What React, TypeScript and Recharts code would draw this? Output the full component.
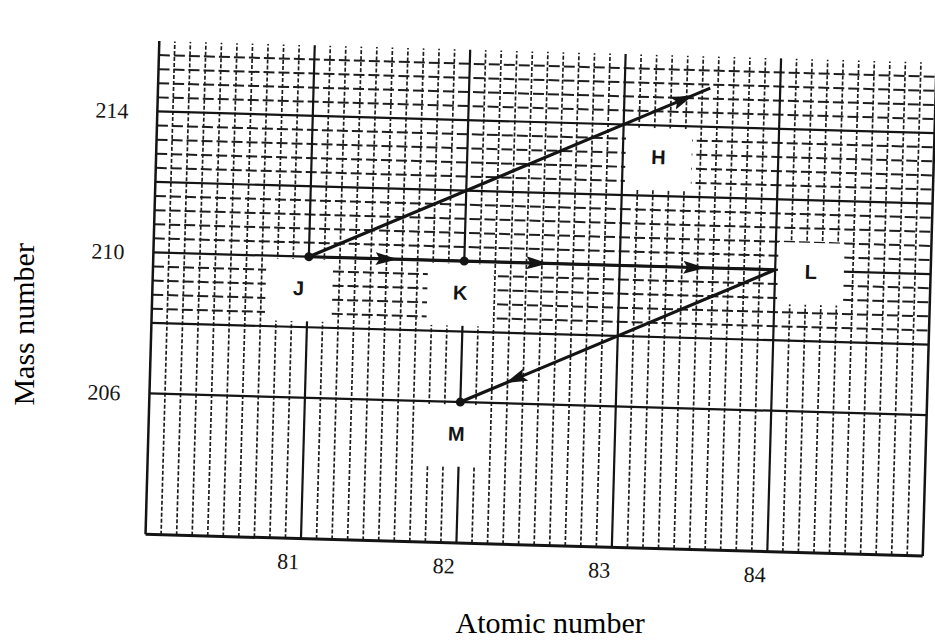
import React from "react";
import {
  ComposedChart,
  Label,
  Line,
  ReferenceLine,
  Scatter,
  XAxis,
  YAxis,
} from "recharts";

// axis ticks
const atomicTicks = [81, 82, 83, 84];
const massTicks = [206, 210, 214];

// nuclides drawn as dots
const nuclides = [
  { name: "J", x: 81, y: 210 },
  { name: "K", x: 82, y: 210 },
  { name: "M", x: 82, y: 206 },
];

// decay paths — the inner points are where the arrow heads sit
const pathJK = [
  { x: 81, y: 210 },
  { x: 81.5, y: 210 },
  { x: 82, y: 210 },
];
const pathKL = [
  { x: 82, y: 210 },
  { x: 82.47, y: 210 },
  { x: 83.48, y: 210 },
  { x: 84, y: 210 },
];
const pathLM = [
  { x: 84, y: 210 },
  { x: 82.35, y: 206.7 },
  { x: 82, y: 206 },
];
const pathJH = [
  { x: 81, y: 210 },
  { x: 83.38, y: 214.76 },
  { x: 83.55, y: 215.1 },
];

// letter labels (in data units)
const letters = [
  { name: "H", x: 83.23, y: 213.1 },
  { name: "J", x: 80.94, y: 209.1 },
  { name: "K", x: 81.98, y: 209.1 },
  { name: "L", x: 84.23, y: 209.97 },
  { name: "M", x: 81.98, y: 205.1 },
];

const TILT = 1.6; // the scanned sheet is a little crooked
const INK = "#141414";
const serif = '"Liberation Serif", "Times New Roman", serif';

// graph paper rulings
const steps = (from: number, to: number, step: number) => {
  const out: number[] = [];
  for (let v = from; v <= to + 1e-9; v += step) out.push(Math.round(v * 10) / 10);
  return out;
};
const minorX = steps(80.1, 84.9, 0.1).filter((v) => !Number.isInteger(v));
const majorX = [81, 82, 83, 84];
const minorY = steps(208.4, 216, 0.4).filter((v) => v % 2 !== 0);
const majorY = [206, 208, 210, 212, 214];

function LetterBox(props: any) {
  const { cx, cy, payload } = props;
  return (
    <g>
      <rect x={cx - 33} y={cy - 29} width={66} height={62} fill="#fff" />
      <text
        x={cx}
        y={cy + 7}
        textAnchor="middle"
        fontFamily='"Liberation Sans", Arial, sans-serif'
        fontWeight={700}
        fontSize={20}
        fill={INK}
      >
        {payload.name}
      </text>
    </g>
  );
}

function Dot(props: any) {
  const { cx, cy } = props;
  return <circle cx={cx} cy={cy} r={4.5} fill={INK} />;
}

function XTitle(props: any) {
  const { viewBox, value } = props;
  const x = viewBox.x + viewBox.width / 2 + 18.5;
  const y = viewBox.y + viewBox.height - 9;
  return (
    <text
      x={x}
      y={y}
      textAnchor="middle"
      transform={`rotate(${-TILT} ${x} ${y})`}
      fontFamily={serif}
      fontSize={30}
      fill="#000"
    >
      {value}
    </text>
  );
}

function YTitle(props: any) {
  const { viewBox, value } = props;
  const x = viewBox.x + 35;
  const y = viewBox.y + viewBox.height / 2 + 40;
  return (
    <text
      x={x}
      y={y}
      textAnchor="middle"
      transform={`rotate(${-90 - TILT} ${x} ${y})`}
      fontFamily={serif}
      fontSize={30}
      fill="#000"
    >
      {value}
    </text>
  );
}

export default function App() {
  const tickStyle = { fontFamily: serif, fontSize: 22, fill: INK };
  const lineProps = {
    dataKey: "y",
    stroke: INK,
    strokeWidth: 3.2,
    dot: false,
    activeDot: false,
    type: "linear" as const,
    markerMid: "url(#arrowHead)",
    isAnimationActive: false,
  };

  return (
    <div
      style={{
        position: "absolute",
        left: 0,
        top: 0,
        width: 935,
        height: 641,
        background: "#fff",
        overflow: "hidden",
      }}
    >
      <div
        style={{
          width: 935,
          height: 641,
          transform: `rotate(${TILT}deg)`,
          transformOrigin: "532px 290px",
        }}
      >
        <ComposedChart
          width={935}
          height={641}
          margin={{ top: 51.5, right: 5, bottom: 0, left: 0 }}
        >
          <defs>
            <marker
              id="arrowHead"
              markerUnits="userSpaceOnUse"
              markerWidth={22}
              markerHeight={14}
              refX={11}
              refY={7}
              orient="auto"
            >
              <path d="M0,0.5 L22,7 L0,13.5 L4,7 z" fill={INK} />
            </marker>
          </defs>

          <XAxis
            type="number"
            dataKey="x"
            domain={[80, 85]}
            ticks={atomicTicks}
            allowDataOverflow
            axisLine={false}
            tickLine={false}
            tickSize={6}
            tickMargin={9}
            height={96}
            tick={{ ...tickStyle, dx: -12 }}
          >
            <Label value="Atomic number" content={XTitle} />
          </XAxis>
          <YAxis
            type="number"
            dataKey="y"
            domain={[202, 216]}
            ticks={massTicks}
            allowDataOverflow
            axisLine={false}
            tickLine={false}
            tickSize={6}
            tickMargin={23}
            width={152.5}
            tick={tickStyle}
          >
            <Label value="Mass number" content={YTitle} />
          </YAxis>

          {minorX.map((v) => (
            <ReferenceLine
              key={`mx${v}`}
              x={v}
              stroke="#1e1e1e"
              strokeWidth={1.7}
              strokeDasharray="4 2"
            />
          ))}
          {minorY.map((v) => (
            <ReferenceLine
              key={`my${v}`}
              y={v}
              stroke="#1e1e1e"
              strokeWidth={2}
              strokeDasharray="11 4"
            />
          ))}
          {majorY.map((v) => (
            <ReferenceLine key={`My${v}`} y={v} stroke={INK} strokeWidth={2.2} />
          ))}
          {majorX.map((v) => (
            <ReferenceLine key={`Mx${v}`} x={v} stroke={INK} strokeWidth={2.2} />
          ))}
          <ReferenceLine x={80} stroke={INK} strokeWidth={2.5} />
          <ReferenceLine x={85} stroke={INK} strokeWidth={2.5} />
          <ReferenceLine y={202} stroke={INK} strokeWidth={3} />

          <Scatter
            data={letters}
            dataKey="y"
            shape={LetterBox}
            isAnimationActive={false}
          />

          <Line data={pathJK} {...lineProps} />
          <Line data={pathKL} {...lineProps} />
          <Line data={pathLM} {...lineProps} />
          <Line data={pathJH} {...lineProps} />

          <Scatter
            data={nuclides}
            dataKey="y"
            shape={Dot}
            isAnimationActive={false}
          />
        </ComposedChart>
      </div>
    </div>
  );
}
